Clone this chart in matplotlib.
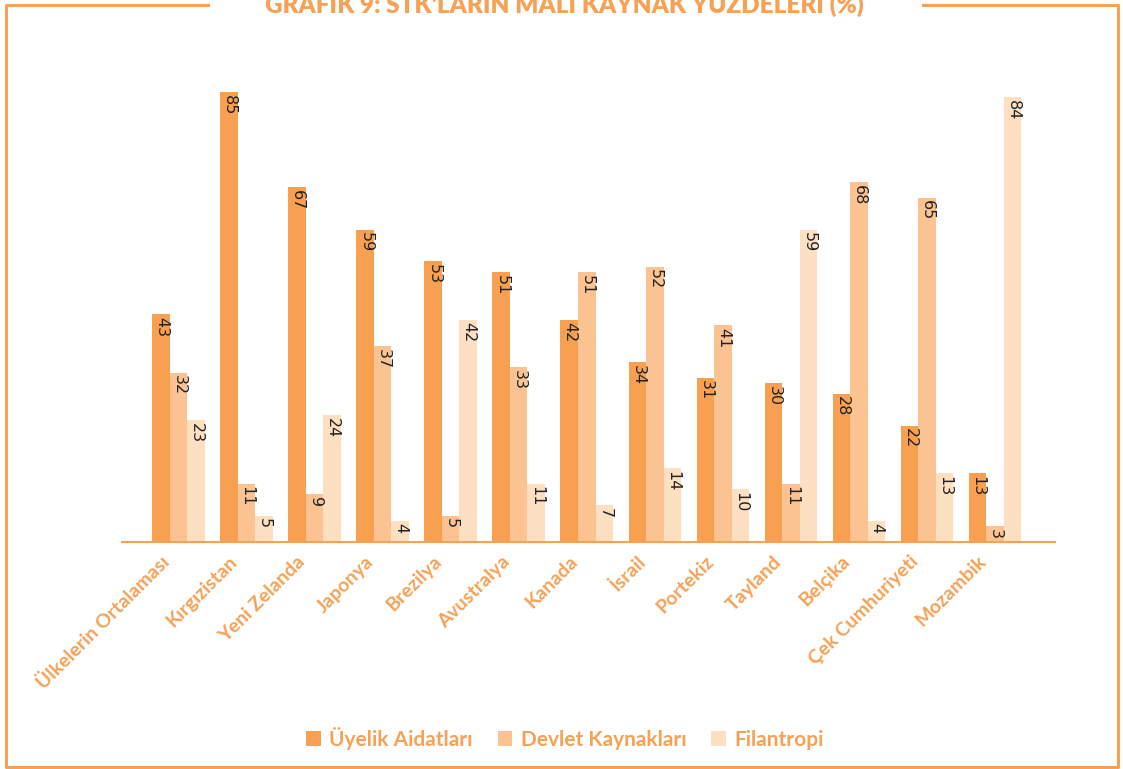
import matplotlib
matplotlib.use("Agg")
import matplotlib.pyplot as plt
import matplotlib.transforms as mtransforms
from matplotlib.lines import Line2D
import numpy as np

# --- Data ---
countries = ["Ülkelerin Ortalaması", "Kırgızistan", "Yeni Zelanda", "Japonya", "Brezilya",
             "Avustralya", "Kanada", "İsrail", "Portekiz", "Tayland", "Belçika",
             "Çek Cumhuriyeti", "Mozambik"]
uyelik = [43, 85, 67, 59, 53, 51, 42, 34, 31, 30, 28, 22, 13]
devlet = [32, 11, 9, 37, 5, 33, 51, 52, 41, 11, 68, 65, 3]
filantropi = [23, 5, 24, 4, 42, 11, 7, 14, 10, 59, 4, 13, 84]
series_names = ["Üyelik Aidatları", "Devlet Kaynakları", "Filantropi"]

title = "GRAFİK 9: STK'LARIN MALİ KAYNAK YÜZDELERİ (%)"

ORANGE = "#F7A155"
colors = ["#F7A052", "#FBC292", "#FDDFC2"]

plt.rcParams["font.family"] = ["Lato", "DejaVu Sans"]

fig = plt.figure(figsize=(11.23, 7.69), dpi=100)
ax = fig.add_axes([0.1086, 0.2952, 0.8308, 0.6197])

x = np.arange(len(countries))
w = 17.5 / 68
for i, (vals, col, name) in enumerate(zip([uyelik, devlet, filantropi], colors, series_names)):
    pos = x + (i - 1) * w
    ax.bar(pos, vals, width=w, color=col, label=name, linewidth=0)
    for p, v in zip(pos, vals):
        ax.text(p + 0.01, v - 0.5, str(v), rotation=270, ha="center", va="top",
                fontsize=11.5, color="#222222", family=["DejaVu Sans"])

ax.set_xlim(-0.83, 12.88)
ax.set_ylim(0, 90)
for s in ["top", "right", "left"]:
    ax.spines[s].set_visible(False)
ax.spines["bottom"].set_color(ORANGE)
ax.spines["bottom"].set_linewidth(1.5)
ax.set_yticks([])
ax.set_xticks(x)
ax.set_xticklabels(countries, rotation=45, ha="right", va="center", rotation_mode="anchor",
                   fontsize=14, color=ORANGE, fontweight="bold")
ax.tick_params(axis="x", length=0, pad=12)
shift = mtransforms.ScaledTranslation(-12 / 100, 0, fig.dpi_scale_trans)
for lab in ax.get_xticklabels():
    lab.set_transform(lab.get_transform() + shift)

leg = fig.legend(loc="center", bbox_to_anchor=(0.503, 0.040), ncol=3, frameon=False,
                 handlelength=0.7, handleheight=0.7, handletextpad=0.4, columnspacing=1.2,
                 prop={"size": 15, "weight": "bold"})
for t in leg.get_texts():
    t.set_color(ORANGE)

# frame around the figure, broken by the title
W, H = 1123, 769
lw = 2.2
def fline(xs, ys):
    fig.add_artist(Line2D([v / W for v in xs], [1 - v / H for v in ys],
                          color=ORANGE, linewidth=lw, transform=fig.transFigure))
fline([208, 6, 6, 1118, 1118, 923], [5, 5, 767, 767, 5, 5])

fig.text(0.503, 1 - 13 / H, title, ha="center", va="baseline", fontsize=17.5,
         fontweight="heavy", color=ORANGE)

fig.savefig("out.png", dpi=100)
